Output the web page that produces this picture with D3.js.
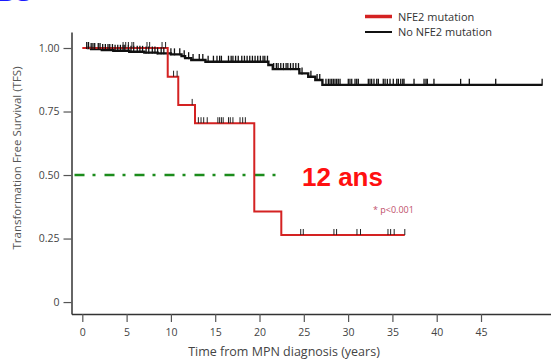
<!DOCTYPE html>
<html>
<head>
<meta charset="utf-8">
<script src="https://cdn.jsdelivr.net/npm/d3@7"></script>
<style>
  body { margin: 0; background: #fff; }
  svg { display: block; font-family: 'Open Sans', 'DejaVu Sans', sans-serif; }
</style>
</head>
<body>
<div id="chart"></div>
<script>
// step curves: [time (years), survival]
let nfe2Steps = [[0, 1], [9.64, 0.887], [10.83, 0.776], [12.72, 0.704], [19.41, 0.356], [22.46, 0.264], [36.4, 0.264]];
let noNfe2Steps = [[0.5, 1], [1, 0.996], [2.2, 0.992], [3.5, 0.989], [5.3, 0.985], [7, 0.982], [8.5, 0.979],
    [10, 0.975], [11.2, 0.968], [11.6, 0.96], [12.3, 0.953], [13.9, 0.946], [21, 0.933], [21.5, 0.917],
    [24.5, 0.9], [25.5, 0.887], [26.3, 0.874], [27.1, 0.855], [51.9, 0.855]];

// censored times
let nfe2Censor = [4.6, 4.9, 5.2, 5.6, 5.8, 7.3, 7.6, 9.0, 9.4, 10.3, 10.7, 12.4,
    13.1, 13.4, 13.7, 14.1, 15.3, 15.5, 15.7, 15.9, 16.5, 16.7, 17.0, 17.8, 18.1, 18.4,
    24.65, 24.94, 28.4, 28.7, 31.0, 31.4, 34.5, 34.8, 35.2, 36.4];
let noNfe2Censor = [0.5, 0.7, 1.0, 1.2, 1.4, 1.8, 2.0, 2.3, 2.6, 2.9, 3.1, 3.4, 3.7, 4.0, 4.3, 4.6, 4.8,
    5.2, 5.5, 5.8, 6.2, 6.5, 6.8, 7.2, 7.5, 7.9, 8.2, 8.5, 8.9, 9.2,
    10.0, 10.4, 11.0, 11.5, 12.0, 12.5, 13.2, 13.6, 14.2,
    14.8, 15.2, 15.5, 15.7, 16.5, 16.8, 17.0, 17.3, 17.6, 18.0, 18.3, 18.6, 18.9, 19.2, 19.5, 19.8, 20.1, 20.4, 20.6, 20.9,
    21.6, 21.9, 22.1, 22.4, 22.7, 23.0, 23.2, 23.5, 23.8, 24.1, 24.4, 24.8, 25.8, 26.5, 26.8,
    27.5, 27.77, 27.96, 28.15, 28.33, 28.52, 28.71, 28.89, 29.09, 30.02, 30.21, 30.41, 30.78, 30.97, 31.15,
    32.28, 32.47, 32.66, 32.92, 33.23, 33.41, 33.97, 34.17, 34.43, 34.73, 35.1, 35.49, 35.67, 35.94, 36.17, 36.31,
    37.44, 38.57, 38.79, 38.94, 39.69, 42.7, 43.68, 46.66, 51.9];

let xTicks = [0, 5, 10, 15, 20, 25, 30, 35, 40, 45];
let yTicks = [0, 0.25, 0.5, 0.75, 1];
let yTickLabels = ['0', '0.25', '0.50', '0.75', '1.00'];

let width = 551, height = 359;

let svg = d3.select('#chart')
    .append('svg')
    .attr('width', width)
    .attr('height', height);

let x = d3.scaleLinear().domain([-1.22, 52.9]).range([71.5, 551]);
let y = d3.scaleLinear().domain([-0.047, 1.063]).range([314, 32]);

// cut-off blue label at top left (only its bottom edge is inside the picture)
svg.append('text')
    .attr('x', -4).attr('y', 0.5)
    .attr('fill', '#1a1aff')
    .style('font-size', '30px').style('font-weight', 'bold')
    .text('B3');

// axes
let xAxis = svg.append('g')
    .attr('transform', `translate(0, ${y.range()[0]})`)
    .call(d3.axisBottom(x).tickValues(xTicks).tickSize(8).tickSizeOuter(0));
let yAxis = svg.append('g')
    .attr('transform', `translate(${x.range()[0]}, 0)`)
    .call(d3.axisLeft(y).tickValues(yTicks).tickSize(8).tickSizeOuter(0)
        .tickFormat((d, i) => yTickLabels[i]));

[xAxis, yAxis].forEach(a => {
    a.select('.domain').attr('stroke', '#333').attr('stroke-width', 1.5);
    a.selectAll('.tick line').attr('stroke', '#555').attr('stroke-width', 1.2);
    a.selectAll('.tick text').attr('fill', '#444').style('font-size', '10.5px')
        .style('font-family', "'Open Sans', sans-serif");
});
xAxis.selectAll('.tick text').attr('dy', '1.05em');
yAxis.selectAll('.tick text').attr('dx', '-1px');

// axis titles
svg.append('text')
    .attr('transform', `translate(21, 158) rotate(-90)`)
    .attr('text-anchor', 'middle')
    .attr('fill', '#555')
    .style('font-size', '11.5px')
    .text('Transformation Free Survival (TFS)');
svg.append('text')
    .attr('x', 284).attr('y', 356)
    .attr('text-anchor', 'middle')
    .attr('fill', '#444')
    .style('font-size', '12.5px')
    .text('Time from MPN diagnosis (years)');

// median line
svg.append('line')
    .attr('x1', x.range()[0] + 3).attr('x2', x(22.5))
    .attr('y1', y(0.5)).attr('y2', y(0.5))
    .attr('stroke', '#1c8c1c').attr('stroke-width', 2.5)
    .attr('stroke-dasharray', '10,8,3,9');

let line = d3.line()
    .x(d => x(d[0]))
    .y(d => y(d[1]))
    .curve(d3.curveStepAfter);

function survAt(steps, t) {
    let s = steps[0][1];
    steps.forEach(d => { if (d[0] <= t) s = d[1]; });
    return s;
}

svg.append('path')
    .datum(noNfe2Steps)
    .attr('d', line)
    .attr('fill', 'none')
    .attr('stroke', '#111')
    .attr('stroke-width', 2.4);

svg.append('path')
    .datum(nfe2Steps)
    .attr('d', line)
    .attr('fill', 'none')
    .attr('stroke', '#d42222')
    .attr('stroke-width', 2);

// censor marks
svg.selectAll('.c0')
    .data(noNfe2Censor)
    .enter()
    .append('line')
        .attr('x1', d => x(d)).attr('x2', d => x(d))
        .attr('y1', d => y(survAt(noNfe2Steps, d)) - 6)
        .attr('y2', d => y(survAt(noNfe2Steps, d)) + 1)
        .attr('stroke', '#111').attr('stroke-width', 1.3);
svg.selectAll('.c1')
    .data(nfe2Censor)
    .enter()
    .append('line')
        .attr('x1', d => x(d)).attr('x2', d => x(d))
        .attr('y1', d => y(survAt(nfe2Steps, d)) - 6)
        .attr('y2', d => y(survAt(nfe2Steps, d)))
        .attr('stroke', '#222').attr('stroke-width', 1);

// annotations
svg.append('text')
    .attr('x', 302).attr('y', 186)
    .attr('fill', '#ff1010')
    .style('font-family', "'Liberation Sans', Arial, sans-serif")
    .style('font-size', '26px').style('font-weight', 'bold')
    .text('12 ans');
svg.append('text')
    .attr('x', 373).attr('y', 213)
    .attr('fill', '#c0506a')
    .style('font-size', '9px')
    .text('*  p<0.001');

// legend
let legend = [['NFE2 mutation', '#d42222', 3.5, 16.5], ['No NFE2 mutation', '#111', 2, 32]];
legend.forEach(l => {
    svg.append('line')
        .attr('x1', 365).attr('x2', 392)
        .attr('y1', l[3]).attr('y2', l[3])
        .attr('stroke', l[1]).attr('stroke-width', l[2]);
    svg.append('text')
        .attr('x', 398).attr('y', l[3] + 4)
        .attr('fill', '#333')
        .style('font-size', '11px')
        .text(l[0]);
});
</script>
</body>
</html>
